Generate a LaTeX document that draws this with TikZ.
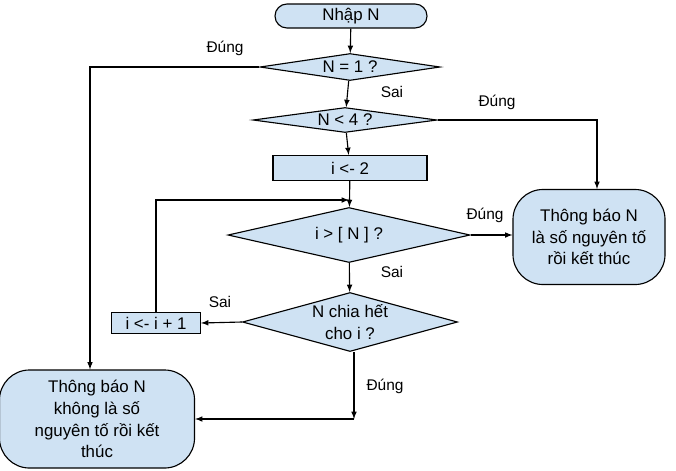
\documentclass[tikz,border=0pt]{standalone}
\usepackage{fontspec}
\setmainfont{Liberation Sans}
\usepackage{tikz}
\usetikzlibrary{arrows,shapes.geometric}

\definecolor{boxblue}{RGB}{207,226,243}

\begin{document}
\begin{tikzpicture}[x=0.025cm, y=-0.025cm, line width=0.8pt, >=latex]
		\tikzstyle{terminal}=[draw, fill=boxblue, align=center, font=\fontsize{12}{15.5}\selectfont];
		\tikzstyle{decision}=[draw, fill=boxblue, diamond, aspect=6, inner sep=0pt, align=center, font=\fontsize{12}{15.5}\selectfont];
		\tikzstyle{process}=[draw, fill=boxblue, font=\fontsize{12}{15.5}\selectfont];
		\tikzstyle{answer}=[font=\fontsize{11}{13}\selectfont];

		\useasboundingbox (0,0) rectangle (676,470);

		\node[terminal, rounded corners=0.3cm, minimum width=3.8cm, minimum height=0.6cm, inner sep=1pt] (start) at (351,16) {Nhập N};
		\node[decision, minimum width=4.5cm, minimum height=0.675cm] (isone) at (350,67) {N = 1 ?};
		\node[decision, minimum width=4.6cm, minimum height=0.625cm] (lessfour) at (345,120) {N < 4 ?};
		\node[process, minimum width=3.85cm, minimum height=0.625cm, inner sep=1pt] (init) at (350,168) {i <- 2};
		\node[decision, minimum width=6.05cm, minimum height=1.375cm] (bound) at (349,235) {i > [ N ] ?};
		\node[decision, aspect=3.4, minimum width=5.375cm, minimum height=1.475cm] (divides) at (350,322) {N chia hết\\cho i ?};
		\node[process, minimum width=2.225cm, minimum height=0.525cm, inner sep=1pt] (step) at (156,323) {i <- i + 1};
		\node[terminal, rounded corners=0.75cm, minimum width=3.8cm, minimum height=2.375cm] (isprime) at (589,237) {Thông báo N\\là số nguyên tố\\rồi kết thúc};
		\node[terminal, rounded corners=0.75cm, minimum width=4.875cm, minimum height=2.45cm] (notprime) at (97,419) {Thông báo N\\không là số\\nguyên tố rồi kết\\thúc};

		\coordinate (join) at (349,200);
		\coordinate (corner) at (354,419);

		% answers
		\node[answer] (yesone) at (225,48) {Đúng};
		\node[answer] (noone) at (392,92) {Sai};
		\node[answer] (yesfour) at (497,102) {Đúng};
		\node[answer] (yesbound) at (485,215) {Đúng};
		\node[answer] (nobound) at (392,272) {Sai};
		\node[answer] (nodiv) at (220,302) {Sai};
		\node[answer] (yesdiv) at (385,386) {Đúng};

		% connectors
		\draw[->] (start) -- (isone);
		\draw[->] (isone) -- (lessfour);
		\draw[->] (lessfour) -- (init);
		\draw[->] (init) -- (bound);
		\draw[->] (bound) -- (divides);
		\draw[->] (isone.west) -| ([xshift=-0.175cm]notprime.north);
		\draw[->] (lessfour.east) -| ([xshift=0.2cm]isprime.north);
		\draw[->] (bound.east) -- (bound.east -| isprime.west);
		\draw[->] (divides.west) -- (step.east);
		\draw[->] (step.north) |- (join);
		\draw[->] (divides.south -| corner) -- (corner);
		\draw[->] (corner) -- (notprime.east |- corner);
	\end{tikzpicture}
\end{document}
